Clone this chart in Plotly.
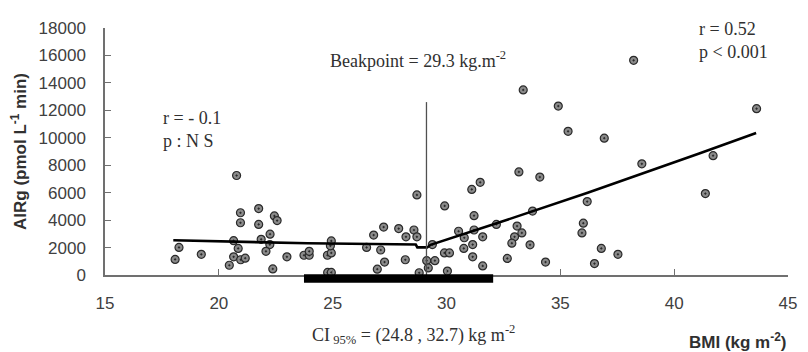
import plotly.graph_objects as go

# ---- data ----
bmi = [20.78, 20.95, 21.75, 22.44, 22.56, 20.95, 21.75, 22.25, 20.65, 21.86,
       22.24, 18.25, 20.85, 22.07, 19.23, 18.08, 20.65, 20.96, 21.16, 22.99,
       23.74, 20.46, 22.37,
       23.97, 23.97, 24.77, 24.94, 24.90, 24.94, 24.78, 24.94, 26.49, 26.80,
       27.11, 27.24, 27.28, 26.96, 27.90, 28.22, 28.19, 28.57, 28.70, 28.70,
       28.80, 29.13, 29.20, 29.38, 29.49, 29.92, 29.91, 30.13, 30.04, 30.53,
       30.78, 30.76, 31.11, 31.48, 31.21, 31.21, 31.15, 31.15, 31.59, 31.59,
       38.22, 33.37, 34.91, 43.62, 35.34, 36.93, 41.71, 38.58, 33.18, 34.10,
       41.37, 36.18, 33.78, 32.19, 33.10, 36.01, 35.95, 33.31, 32.99, 32.87,
       33.67, 36.80, 37.53, 32.67, 34.35, 36.50]
airg = [7250, 4536, 4840, 4302, 3969, 3806, 3685, 2977, 2502, 2601,
        2218, 2006, 1935, 1722, 1510, 1134, 1325, 1113, 1226, 1325,
        1439, 709, 446,
        1439, 1722, 1439, 1609, 2126, 2480, 191, 191, 2006, 2906,
        1821, 3494, 943, 425, 3380, 2785, 1113, 3281, 2785, 5832,
        163, 1042, 517, 2218, 1042, 5032, 1609, 1609, 283, 3189,
        2714, 1935, 6237, 6754, 4323, 3281, 2218, 1325, 2785, 659,
        15641, 13487, 12310, 12119, 10468, 9971, 8696, 8100, 7512, 7137,
        5932, 5350, 4656, 3685, 3565, 3777, 3069, 3069, 2785, 2317,
        2197, 1935, 1510, 1205, 943, 829]

fit_bmi = [18.0, 23.9, 28.65, 28.72, 29.15, 29.3, 32.1, 36.2, 41.1, 43.6]
fit_airg = [2530, 2310, 2220, 2010, 2010, 2200, 3710, 5990, 8860, 10350]

breakpoint_line_x = [29.12, 29.12]
breakpoint_line_y = [0, 12600]
ci_bar = [23.74, 32.05]

x_ticks = [15, 20, 25, 30, 35, 40, 45]
y_ticks = [0, 2000, 4000, 6000, 8000, 10000, 12000, 14000, 16000, 18000]

serif = "Liberation Serif, Times New Roman, serif"
sans = "Liberation Sans, Arial, sans-serif"

fig = go.Figure()
fig.add_trace(go.Scatter(
    x=bmi, y=airg, mode="markers",
    marker=dict(symbol="circle-dot", size=8, color="#8a8a8a",
                line=dict(color="#2a2a2a", width=1.2)),
    showlegend=False, hoverinfo="x+y"))
fig.add_trace(go.Scatter(
    x=fit_bmi, y=fit_airg, mode="lines",
    line=dict(color="black", width=2.6), showlegend=False))
fig.add_trace(go.Scatter(
    x=breakpoint_line_x, y=breakpoint_line_y, mode="lines",
    line=dict(color="#505050", width=1.3), showlegend=False))

fig.add_shape(type="rect", xref="x", yref="paper",
              x0=ci_bar[0], x1=ci_bar[1], y0=-0.031, y1=0.003,
              fillcolor="black", line=dict(width=0), layer="above")

axis_common = dict(showgrid=False, zeroline=False, showline=True,
                   linecolor="#707070", linewidth=1.5,
                   ticks="inside", ticklen=6, tickcolor="#707070", tickwidth=1.3,
                   tickfont=dict(family=sans, size=17, color="#404040"))

fig.update_xaxes(range=[15, 45], tickvals=x_ticks, ticktext=[str(v) for v in x_ticks],
                 ticklabelstandoff=12, **axis_common)
fig.update_yaxes(range=[0, 18000], tickvals=y_ticks, ticktext=[str(v) for v in y_ticks],
                 ticklabelstandoff=14,
                 title=dict(text="AIRg (pmol L<sup>-1</sup> min)",
                            font=dict(family=sans, size=17, color="#303030", weight="bold"),
                            standoff=8),
                 **axis_common)

ann_font = dict(family=serif, size=18, color="#303030")
annotations = [
    dict(text="Beakpoint = 29.3 kg.m<sup>-2</sup>", x=0.459, y=0.872,
         xanchor="center", yanchor="middle"),
    dict(text="r = 0.52", x=0.867, y=0.994, xanchor="left", yanchor="middle"),
    dict(text="p &lt; 0.001", x=0.867, y=0.904, xanchor="left", yanchor="middle"),
    dict(text="r = - 0.1", x=0.082, y=0.634, xanchor="left", yanchor="middle"),
    dict(text="p : N S", x=0.082, y=0.541, xanchor="left", yanchor="middle"),
    dict(text="CI<sub> 95%</sub> = (24.8 , 32.7) kg m<sup>-2</sup>", x=0.451, y=-0.242,
         xanchor="center", yanchor="middle"),
]
for a in annotations:
    fig.add_annotation(xref="paper", yref="paper", showarrow=False, font=ann_font, **a)

fig.add_annotation(xref="paper", yref="paper", x=1.0, y=-0.268, showarrow=False,
                   xanchor="right", yanchor="middle",
                   text="BMI (kg m<sup>-2</sup>)",
                   font=dict(family=sans, size=17, color="#303030", weight="bold"))

# page body has an 8px default margin: shrink the figure so the plot area
# lands where it is in the reference (x 104-797, y 21-275)
fig.update_layout(width=800, height=344,
                  margin=dict(l=96, r=11, t=13, b=77),
                  plot_bgcolor="white", paper_bgcolor="white")

fig.write_html("out.html")
